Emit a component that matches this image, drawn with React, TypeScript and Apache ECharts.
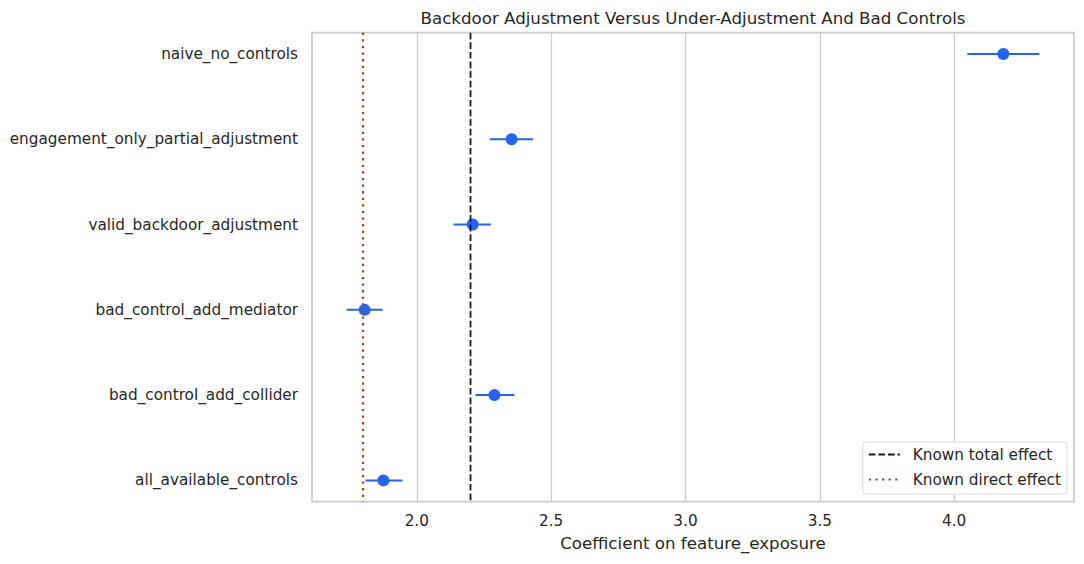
import React, { useEffect, useRef } from "react";
import * as echarts from "echarts";

const CATEGORIES = [
  "naive_no_controls",
  "engagement_only_partial_adjustment",
  "valid_backdoor_adjustment",
  "bad_control_add_mediator",
  "bad_control_add_collider",
  "all_available_controls",
];
const ESTIMATES = [4.183, 2.353, 2.208, 1.806, 2.289, 1.876];
const CI_LOWER = [4.049, 2.272, 2.137, 1.739, 2.218, 1.809];
const CI_UPPER = [4.317, 2.433, 2.276, 1.873, 2.363, 1.947];
const X_TICKS = [2.0, 2.5, 3.0, 3.5, 4.0];
const TOTAL_EFFECT = 2.2;
const DIRECT_EFFECT = 1.8;

const TITLE = "Backdoor Adjustment Versus Under-Adjustment And Bad Controls";
const X_LABEL = "Coefficient on feature_exposure";
const LEGEND_TOTAL = "Known total effect";
const LEGEND_DIRECT = "Known direct effect";

const FONT = "'DejaVu Sans', 'Liberation Sans', sans-serif";
const TEXT = "#262626";
const GRID = "#cccccc";
const BLUE = "#2563eb";
const DARK = "#111827";
const BROWN = "#9a4a1c";

export default function App() {
  const ref = useRef<HTMLDivElement>(null);

  useEffect(() => {
    if (!ref.current) return;
    const chart = echarts.init(ref.current, null, { renderer: "svg" });

    const lo = Math.min(...CI_LOWER);
    const hi = Math.max(...CI_UPPER);
    const xMin = lo - 0.05 * (hi - lo);
    const xMax = hi + 0.05 * (hi - lo);
    const n = CATEGORIES.length;
    const yMin = -0.05 * (n - 1);
    const yMax = n - 1 + 0.05 * (n - 1);

    chart.setOption({
      animation: false,
      backgroundColor: "#ffffff",
      textStyle: { fontFamily: FONT },
      graphic: [
        {
          type: "text",
          x: 693,
          y: 18.5,
          style: {
            text: TITLE,
            font: `16.67px ${FONT}`,
            fill: TEXT,
            align: "center",
            verticalAlign: "middle",
          },
        },
      ],
      grid: {
        left: 312,
        right: 10,
        top: 32.7,
        bottom: 62.3,
        show: true,
        borderColor: GRID,
        borderWidth: 1.7,
        backgroundColor: "transparent",
        containLabel: false,
        outerBoundsMode: "none",
      },
      legend: {
        orient: "vertical",
        right: 17,
        bottom: 70,
        data: [LEGEND_TOTAL, LEGEND_DIRECT],
        itemWidth: 31,
        itemHeight: 14,
        itemGap: 10,
        padding: [5, 6, 7, 5],
        backgroundColor: "#ffffff",
        borderColor: "#d9d9d9",
        borderWidth: 1,
        borderRadius: 4,
        selectedMode: false,
        itemStyle: {
          color: "transparent",
          borderColor: "transparent",
          borderWidth: 0,
          opacity: 0,
        },
        textStyle: {
          fontSize: 15.28,
          color: TEXT,
          fontFamily: FONT,
          padding: [0, 0, 0, 8],
        },
      },
      xAxis: {
        type: "value",
        min: xMin,
        max: xMax,
        name: X_LABEL,
        nameLocation: "middle",
        nameGap: 33.5,
        nameTextStyle: { fontSize: 16.67, color: TEXT, fontFamily: FONT },
        axisLine: { show: false },
        axisTick: { show: false, customValues: X_TICKS },
        axisLabel: {
          customValues: X_TICKS,
          formatter: (v: number) => v.toFixed(1),
          fontSize: 15.28,
          color: TEXT,
          fontFamily: FONT,
          margin: 12,
        },
        splitLine: { show: true, lineStyle: { color: GRID, width: 1.3 } },
      },
      yAxis: {
        type: "value",
        min: yMin,
        max: yMax,
        inverse: true,
        axisLine: { show: false },
        axisTick: { show: false, customValues: CATEGORIES.map((_, i) => i) },
        axisLabel: {
          customValues: CATEGORIES.map((_, i) => i),
          formatter: (v: number) => CATEGORIES[Math.round(v)] ?? "",
          fontSize: 15.28,
          color: TEXT,
          fontFamily: FONT,
          margin: 14,
        },
        splitLine: { show: false },
      },
      series: [
        {
          type: "custom",
          name: "ci",
          z: 2,
          silent: true,
          data: CATEGORIES.map((_, i) => [CI_LOWER[i], CI_UPPER[i], i]),
          encode: { x: [0, 1], y: 2 },
          renderItem: (_params: any, api: any) => {
            const a = api.coord([api.value(0), api.value(2)]);
            const b = api.coord([api.value(1), api.value(2)]);
            return {
              type: "line",
              shape: { x1: a[0], y1: a[1], x2: b[0], y2: b[1] },
              style: { stroke: BLUE, lineWidth: 2 },
            };
          },
        },
        {
          type: "scatter",
          name: "estimate",
          z: 3,
          silent: true,
          symbol: "circle",
          symbolSize: 12,
          itemStyle: { color: BLUE, opacity: 1 },
          data: ESTIMATES.map((v, i) => [v, i]),
        },
        {
          type: "line",
          name: LEGEND_TOTAL,
          z: 4,
          silent: true,
          symbol: "none",
          color: DARK,
          lineStyle: { color: DARK, width: 1.8, type: [6.7, 2.9] },
          data: [
            [TOTAL_EFFECT, yMin],
            [TOTAL_EFFECT, yMax],
          ],
        },
        {
          type: "line",
          name: LEGEND_DIRECT,
          z: 4,
          silent: true,
          symbol: "none",
          color: BROWN,
          lineStyle: { color: BROWN, width: 2.3, type: [2.3, 4.3] },
          data: [
            [DIRECT_EFFECT, yMin],
            [DIRECT_EFFECT, yMax],
          ],
        },
      ],
    });

    return () => chart.dispose();
  }, []);

  return (
    <div
      ref={ref}
      style={{ position: "fixed", left: 0, top: 0, width: 1084, height: 564 }}
    />
  );
}
